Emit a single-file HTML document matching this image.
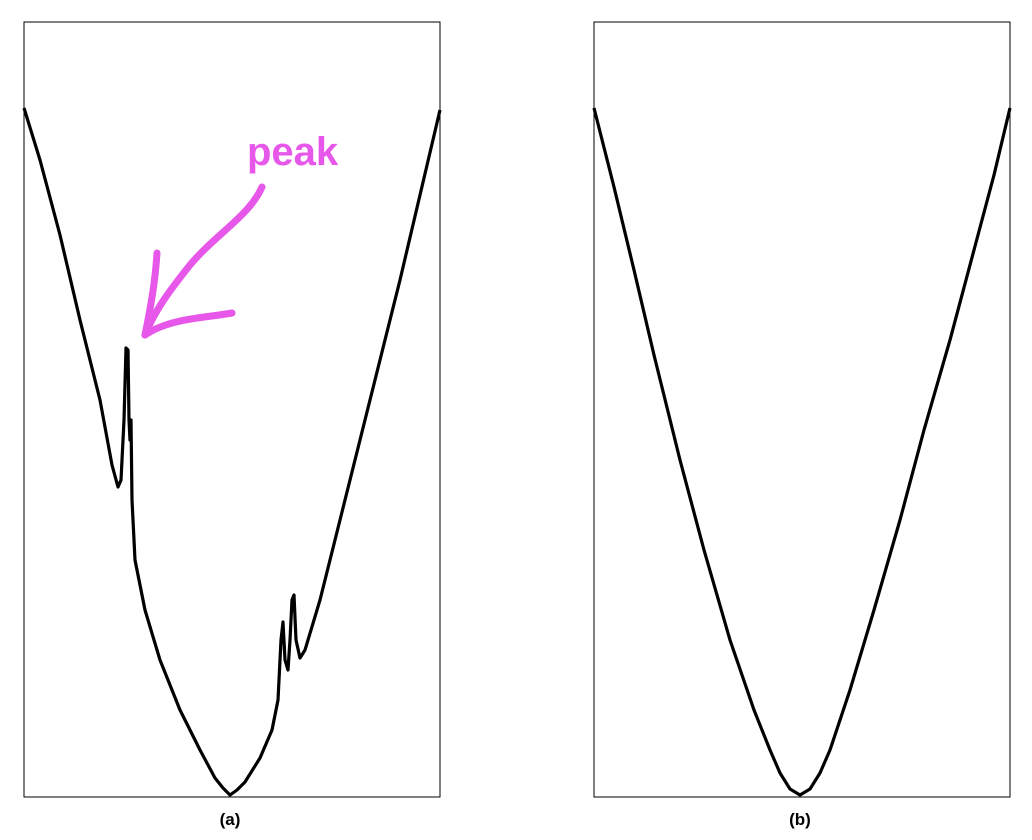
<!DOCTYPE html>
<html><head><meta charset="utf-8"><style>
body{margin:0;background:#fff;}
svg{display:block;font-family:"Liberation Sans",sans-serif;}
</style></head><body>
<svg id="chart" width="1032" height="840">
<rect x="24" y="22" width="416" height="775" fill="none" stroke="#000" stroke-width="1"/>
<rect x="594" y="22" width="416" height="775" fill="none" stroke="#000" stroke-width="1"/>
<text x="230" y="825" text-anchor="middle" font-weight="bold" font-size="17">(a)</text>
<text x="800" y="825" text-anchor="middle" font-weight="bold" font-size="17">(b)</text>
<text x="247" y="165" font-weight="bold" font-size="40" fill="#e657ea">peak</text>
<g fill="none" stroke="#e657ea" stroke-width="7" stroke-linecap="round">
<path d="M262,187 C250,215 215,235 190,265 C170,290 155,310 145,335"/>
<path d="M157,253 C155,285 150,310 145,335"/>
<path d="M232,313 C205,318 170,318 145,335"/>
</g>
<g id="series"></g>
</svg>
<script>
// panel (a): x offset within panel, y height above bottom (pixel-domain units 0..416, 0..775)
const aX=[0,16,36,56,76,88,94,97,100,102,104,105,106,107,108,111,121,136,156,176,191,199,206,213,221,236,248,254,257,259,261,264,266,268,270,272,276,281,296,316,336,356,376,396,416];
const aY=[689,637,562,477,397,332,310,317,377,449,447,377,357,377,297,237,187,137,87,47,19,9,2,7,15,39,67,97,157,175,137,127,157,197,202,157,139,147,197,277,357,437,517,602,687];
// panel (b)
const bX=[0,20,40,60,86,110,136,160,176,186,196,206,216,226,236,256,280,306,330,356,380,400,416];
const bY=[689,610,527,442,337,247,157,87,47,24,8,2,8,24,47,107,187,277,367,457,547,622,689];
const W=416,H=775,TOP=22;
function sx(panelLeft,v){return panelLeft+v/W*W;}
function sy(v){return TOP+H-v/H*H;}
function draw(left,xs,ys,name){
  let d='';
  for(let i=0;i<xs.length;i++){d+=(i?'L':'M')+sx(left,xs[i]).toFixed(1)+','+sy(ys[i]).toFixed(1);}
  const p=document.createElementNS('http://www.w3.org/2000/svg','path');
  p.setAttribute('d',d);p.setAttribute('fill','none');p.setAttribute('stroke','#000');
  p.setAttribute('stroke-width','3.2');p.setAttribute('stroke-linejoin','round');
  
  
  document.getElementById('series').appendChild(p);
}
draw(24,aX,aY,'curve-a');
draw(594,bX,bY,'curve-b');
</script>
</body></html>
